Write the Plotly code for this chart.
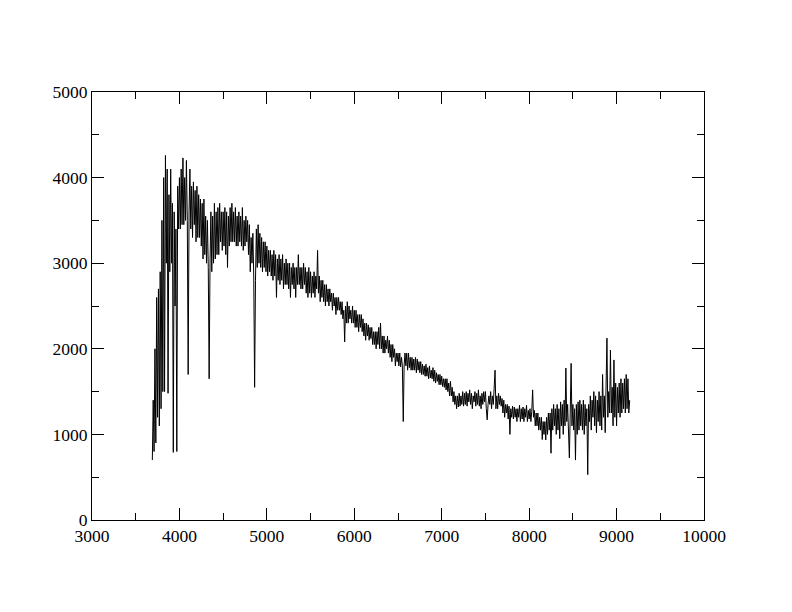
import plotly.graph_objects as go

# Wavelength grid (Angstrom) and flux values
wl_start = 3690
wl_step = 10
flux = [
    700, 1400, 800, 2000, 900, 2600, 1200, 2700, 1100, 2900, 1300, 3500, 1500, 4000, 1500, 4260, 3000, 4100, 1480, 3800,
    2900, 4100, 3000, 3700, 790, 3600, 2500, 3400, 800, 3900, 3400, 4000, 3400, 4100, 3450, 4230, 3450, 4000, 3500, 4200,
    3500, 1700, 3600, 4100, 3400, 3900, 3300, 3950, 3450, 3850, 3250, 3900, 3300, 3800, 3300, 3750, 3200, 3700, 3050, 3750,
    3100, 3550, 3000, 3500, 2950, 1650, 3000, 3600, 2900, 3550, 3000, 3700, 3050, 3600, 3100, 3650, 3100, 3700, 3250, 3600,
    3150, 3600, 3200, 3650, 3100, 3600, 2950, 3550, 3200, 3650, 3250, 3700, 3250, 3600, 3250, 3650, 3200, 3550, 3200, 3600,
    3250, 3550, 3200, 3650, 3150, 3500, 3200, 3550, 3250, 3500, 3100, 3450, 2900, 3300, 3000, 3350, 2850, 1550, 2800, 3400,
    2950, 3450, 3000, 3350, 2950, 3300, 2900, 3250, 2950, 3250, 2900, 3200, 2850, 3150, 2900, 3150, 2850, 3100, 2800, 3150,
    2850, 3100, 2600, 3050, 2800, 3100, 2750, 3050, 2800, 3100, 2700, 3000, 2750, 3050, 2750, 3000, 2700, 3000, 2600, 2950,
    2750, 3000, 2700, 2950, 2600, 2950, 2750, 3100, 2750, 2950, 2700, 2950, 2700, 3000, 2750, 2950, 2650, 2900, 2600, 2950,
    2650, 2900, 2600, 2850, 2650, 2900, 2600, 2850, 2700, 3150, 2650, 2850, 2550, 2800, 2600, 2800, 2550, 2750, 2500, 2750,
    2550, 2700, 2500, 2700, 2550, 2650, 2450, 2650, 2500, 2600, 2400, 2600, 2450, 2600, 2450, 2550, 2400, 2550, 2350, 2450,
    2080, 2500, 2300, 2550, 2300, 2500, 2350, 2450, 2300, 2500, 2300, 2450, 2250, 2450, 2250, 2400, 2200, 2400, 2250, 2400,
    2200, 2350, 2150, 2300, 2100, 2300, 2150, 2280, 2100, 2250, 2120, 2250, 2050, 2200, 2050, 2200, 2000, 2200, 2050, 2250,
    2000, 2300, 2000, 2150, 1950, 2150, 1950, 2100, 2000, 2150, 1950, 2100, 1900, 2050, 1850, 2050, 1900, 2000, 1800, 1950,
    1850, 1950, 1800, 1950, 1790, 1900, 1800, 1150, 1800, 1950, 1800, 1950, 1750, 1950, 1780, 1900, 1750, 1900, 1750, 1880,
    1750, 1900, 1720, 1880, 1750, 1850, 1720, 1850, 1700, 1820, 1700, 1800, 1680, 1820, 1680, 1780, 1650, 1800, 1660, 1750,
    1650, 1780, 1620, 1750, 1600, 1720, 1620, 1700, 1580, 1700, 1580, 1680, 1560, 1650, 1550, 1650, 1520, 1650, 1500, 1600,
    1450, 1620, 1450, 1550, 1380, 1500, 1350, 1450, 1300, 1450, 1320, 1480, 1330, 1450, 1350, 1500, 1330, 1480, 1350, 1500,
    1330, 1480, 1380, 1520, 1350, 1480, 1300, 1450, 1380, 1500, 1330, 1480, 1350, 1520, 1330, 1450, 1300, 1480, 1350, 1500,
    1380, 1500, 1300, 1170, 1350, 1450, 1350, 1500, 1300, 1450, 1350, 1500, 1750, 1300, 1450, 1300, 1480, 1350, 1450, 1330,
    1420, 1250, 1400, 1200, 1350, 1250, 1350, 1180, 1330, 1000, 1300, 1200, 1330, 1180, 1320, 1200, 1300, 1150, 1300, 1200,
    1340, 1150, 1300, 1180, 1320, 1150, 1300, 1200, 1340, 1150, 1280, 1180, 1300, 1150, 1270, 1520, 1200, 1280, 1100, 1250,
    1100, 1250, 1050, 1200, 1050, 1200, 940, 1150, 1000, 1150, 935, 1200, 1000, 1250, 1050, 1250, 780, 1300, 1050, 1350,
    1100, 1300, 1000, 1350, 1050, 1300, 950, 1380, 1100, 1350, 1000, 1400, 1100, 1775, 1150, 1350, 1000, 725, 1250, 1830,
    1100, 1350, 1050, 1300, 700, 1350, 1000, 1380, 1050, 1400, 1100, 1350, 1050, 1400, 1000, 1350, 1100, 1300, 530, 1350,
    1150, 1450, 1050, 1400, 1200, 1500, 1100, 1450, 1020, 1400, 1150, 1500, 1100, 1450, 1050, 1700, 1200, 1450, 1020, 1500,
    2125, 1200, 1500, 1250, 1985, 1250, 1550, 1100, 1870, 1200, 1600, 1100, 1550, 1250, 1600, 1200, 1650, 1250, 1600, 1300,
    1650, 1250, 1700, 1300, 1650, 1250, 1400,
]
wavelength = [wl_start + wl_step * i for i in range(len(flux))]

fig = go.Figure()
fig.add_trace(go.Scatter(
    x=wavelength, y=flux, mode="lines",
    line=dict(color="black", width=1),
    showlegend=False,
))

serif = "Liberation Serif, Times New Roman, DejaVu Serif, serif"

axis_common = dict(
    showline=True, linecolor="black", linewidth=1, mirror="allticks",
    ticks="inside", ticklen=12, tickwidth=1, tickcolor="black",
    showgrid=False, zeroline=False, tickformat="d",
    tickfont=dict(family=serif, size=17.5, color="black"),
    minor=dict(ticks="inside", ticklen=7, tickwidth=1, tickcolor="black",
               showgrid=False),
)

fig.update_xaxes(range=[3000, 10000], dtick=1000, tick0=3000,
                 minor_dtick=500, **axis_common)
fig.update_yaxes(range=[0, 5000], dtick=1000, tick0=0,
                 minor_dtick=500, **axis_common)

fig.update_layout(
    width=784, height=604,
    margin=dict(l=84, r=88, t=84, b=92),
    font=dict(family=serif, size=17.5, color="black"),
    paper_bgcolor="white", plot_bgcolor="white",
)

fig.write_html("out.html")
